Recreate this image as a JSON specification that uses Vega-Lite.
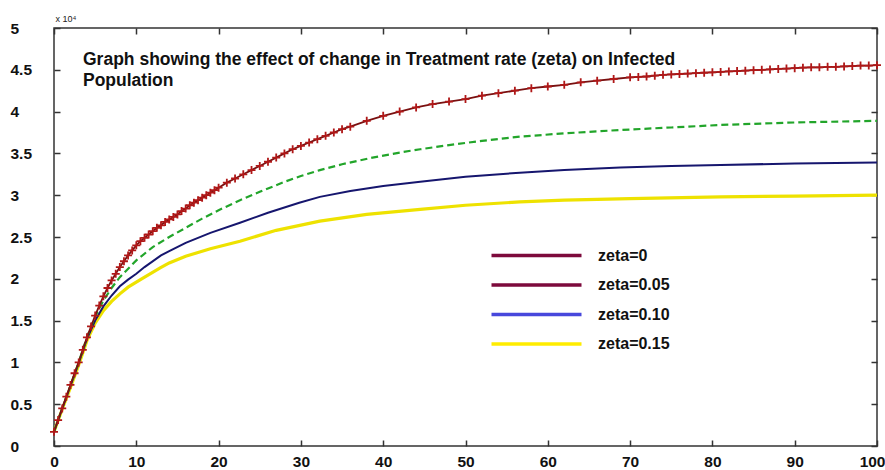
{
  "$schema": "https://vega.github.io/schema/vega-lite/v6.json",
  "width": 823,
  "height": 418,
  "autosize": {"type": "none"},
  "padding": {"left": 54, "top": 28, "right": 8, "bottom": 24},
  "background": "white",
  "title": {
    "text": ["Graph showing the effect of change in Treatment rate (zeta) on Infected", "Population"],
    "anchor": "start",
    "frame": "group",
    "orient": "top",
    "offset": 0,
    "dx": 29,
    "dy": 75,
    "font": "Liberation Sans",
    "fontSize": 17.5,
    "fontWeight": "bold",
    "color": "#111",
    "lineHeight": 21
  },
  "config": {
    "view": {"stroke": "#333", "strokeWidth": 1.5},
    "axis": {
      "domain": false,
      "grid": false,
      "ticks": true,
      "tickSize": -6,
      "tickWidth": 1.5,
      "tickColor": "#333",
      "labelFont": "Liberation Sans",
      "labelFontSize": 15.5,
      "labelFontWeight": "bold",
      "labelColor": "#111"
    }
  },
  "datasets": {
    "legend": [
      {"label": "zeta=0"},
      {"label": "zeta=0.05"},
      {"label": "zeta=0.10"},
      {"label": "zeta=0.15"}
    ],
    "curves": [
      {"series": "zeta0", "time": 0, "infected": 0.17},
      {"series": "zeta0", "time": 0.5, "infected": 0.31},
      {"series": "zeta0", "time": 1, "infected": 0.45},
      {"series": "zeta0", "time": 1.5, "infected": 0.59},
      {"series": "zeta0", "time": 2, "infected": 0.73},
      {"series": "zeta0", "time": 2.5, "infected": 0.87},
      {"series": "zeta0", "time": 3, "infected": 1.0},
      {"series": "zeta0", "time": 3.5, "infected": 1.15},
      {"series": "zeta0", "time": 4, "infected": 1.3},
      {"series": "zeta0", "time": 4.5, "infected": 1.43},
      {"series": "zeta0", "time": 5, "infected": 1.56},
      {"series": "zeta0", "time": 5.5, "infected": 1.68},
      {"series": "zeta0", "time": 6, "infected": 1.79},
      {"series": "zeta0", "time": 6.5, "infected": 1.89},
      {"series": "zeta0", "time": 7, "infected": 1.98},
      {"series": "zeta0", "time": 7.5, "infected": 2.06},
      {"series": "zeta0", "time": 8, "infected": 2.14},
      {"series": "zeta0", "time": 8.5, "infected": 2.21},
      {"series": "zeta0", "time": 9, "infected": 2.28},
      {"series": "zeta0", "time": 9.5, "infected": 2.34},
      {"series": "zeta0", "time": 10, "infected": 2.4},
      {"series": "zeta0", "time": 10.5, "infected": 2.45},
      {"series": "zeta0", "time": 11, "infected": 2.49},
      {"series": "zeta0", "time": 11.5, "infected": 2.53},
      {"series": "zeta0", "time": 12, "infected": 2.57},
      {"series": "zeta0", "time": 12.5, "infected": 2.61},
      {"series": "zeta0", "time": 13, "infected": 2.64},
      {"series": "zeta0", "time": 13.5, "infected": 2.68},
      {"series": "zeta0", "time": 14, "infected": 2.71},
      {"series": "zeta0", "time": 14.5, "infected": 2.74},
      {"series": "zeta0", "time": 15, "infected": 2.77},
      {"series": "zeta0", "time": 15.5, "infected": 2.81},
      {"series": "zeta0", "time": 16, "infected": 2.84},
      {"series": "zeta0", "time": 16.5, "infected": 2.88},
      {"series": "zeta0", "time": 17, "infected": 2.91},
      {"series": "zeta0", "time": 17.5, "infected": 2.94},
      {"series": "zeta0", "time": 18, "infected": 2.97},
      {"series": "zeta0", "time": 18.5, "infected": 3.0},
      {"series": "zeta0", "time": 19, "infected": 3.03},
      {"series": "zeta0", "time": 19.5, "infected": 3.06},
      {"series": "zeta0", "time": 20, "infected": 3.09},
      {"series": "zeta0", "time": 21, "infected": 3.15},
      {"series": "zeta0", "time": 22, "infected": 3.2},
      {"series": "zeta0", "time": 23, "infected": 3.25},
      {"series": "zeta0", "time": 24, "infected": 3.3},
      {"series": "zeta0", "time": 25, "infected": 3.35},
      {"series": "zeta0", "time": 26, "infected": 3.4},
      {"series": "zeta0", "time": 27, "infected": 3.45},
      {"series": "zeta0", "time": 28, "infected": 3.5},
      {"series": "zeta0", "time": 29, "infected": 3.55},
      {"series": "zeta0", "time": 30, "infected": 3.59},
      {"series": "zeta0", "time": 31, "infected": 3.63},
      {"series": "zeta0", "time": 32, "infected": 3.67},
      {"series": "zeta0", "time": 33, "infected": 3.71},
      {"series": "zeta0", "time": 34, "infected": 3.75},
      {"series": "zeta0", "time": 35, "infected": 3.79},
      {"series": "zeta0", "time": 36, "infected": 3.82},
      {"series": "zeta0", "time": 38, "infected": 3.89},
      {"series": "zeta0", "time": 40, "infected": 3.95},
      {"series": "zeta0", "time": 42, "infected": 4.0},
      {"series": "zeta0", "time": 44, "infected": 4.05},
      {"series": "zeta0", "time": 46, "infected": 4.09},
      {"series": "zeta0", "time": 48, "infected": 4.12},
      {"series": "zeta0", "time": 50, "infected": 4.15},
      {"series": "zeta0", "time": 52, "infected": 4.19},
      {"series": "zeta0", "time": 54, "infected": 4.22},
      {"series": "zeta0", "time": 56, "infected": 4.25},
      {"series": "zeta0", "time": 58, "infected": 4.28},
      {"series": "zeta0", "time": 60, "infected": 4.3},
      {"series": "zeta0", "time": 62, "infected": 4.32},
      {"series": "zeta0", "time": 64, "infected": 4.35},
      {"series": "zeta0", "time": 66, "infected": 4.37},
      {"series": "zeta0", "time": 68, "infected": 4.39},
      {"series": "zeta0", "time": 70, "infected": 4.41},
      {"series": "zeta0", "time": 71, "infected": 4.415},
      {"series": "zeta0", "time": 72, "infected": 4.42},
      {"series": "zeta0", "time": 73, "infected": 4.43},
      {"series": "zeta0", "time": 74, "infected": 4.44},
      {"series": "zeta0", "time": 75, "infected": 4.445},
      {"series": "zeta0", "time": 76, "infected": 4.45},
      {"series": "zeta0", "time": 77, "infected": 4.455},
      {"series": "zeta0", "time": 78, "infected": 4.46},
      {"series": "zeta0", "time": 79, "infected": 4.465},
      {"series": "zeta0", "time": 80, "infected": 4.47},
      {"series": "zeta0", "time": 81, "infected": 4.475},
      {"series": "zeta0", "time": 82, "infected": 4.48},
      {"series": "zeta0", "time": 83, "infected": 4.485},
      {"series": "zeta0", "time": 84, "infected": 4.49},
      {"series": "zeta0", "time": 85, "infected": 4.495},
      {"series": "zeta0", "time": 86, "infected": 4.5},
      {"series": "zeta0", "time": 87, "infected": 4.505},
      {"series": "zeta0", "time": 88, "infected": 4.51},
      {"series": "zeta0", "time": 89, "infected": 4.515},
      {"series": "zeta0", "time": 90, "infected": 4.52},
      {"series": "zeta0", "time": 91, "infected": 4.525},
      {"series": "zeta0", "time": 92, "infected": 4.53},
      {"series": "zeta0", "time": 93, "infected": 4.53},
      {"series": "zeta0", "time": 94, "infected": 4.535},
      {"series": "zeta0", "time": 95, "infected": 4.535},
      {"series": "zeta0", "time": 96, "infected": 4.54},
      {"series": "zeta0", "time": 97, "infected": 4.545},
      {"series": "zeta0", "time": 98, "infected": 4.55},
      {"series": "zeta0", "time": 99, "infected": 4.55},
      {"series": "zeta0", "time": 100, "infected": 4.555},

      {"series": "zeta05", "time": 0, "infected": 0.17},
      {"series": "zeta05", "time": 1, "infected": 0.45},
      {"series": "zeta05", "time": 2, "infected": 0.72},
      {"series": "zeta05", "time": 3, "infected": 1.0},
      {"series": "zeta05", "time": 4, "infected": 1.3},
      {"series": "zeta05", "time": 5, "infected": 1.55},
      {"series": "zeta05", "time": 6, "infected": 1.74},
      {"series": "zeta05", "time": 7, "infected": 1.89},
      {"series": "zeta05", "time": 8, "infected": 2.02},
      {"series": "zeta05", "time": 10, "infected": 2.22},
      {"series": "zeta05", "time": 12, "infected": 2.38},
      {"series": "zeta05", "time": 14, "infected": 2.5},
      {"series": "zeta05", "time": 16, "infected": 2.61},
      {"series": "zeta05", "time": 18, "infected": 2.72},
      {"series": "zeta05", "time": 20, "infected": 2.82},
      {"series": "zeta05", "time": 22.6, "infected": 2.94},
      {"series": "zeta05", "time": 25, "infected": 3.04},
      {"series": "zeta05", "time": 28, "infected": 3.16},
      {"series": "zeta05", "time": 30, "infected": 3.23},
      {"series": "zeta05", "time": 32.3, "infected": 3.3},
      {"series": "zeta05", "time": 35, "infected": 3.37},
      {"series": "zeta05", "time": 38.7, "infected": 3.45},
      {"series": "zeta05", "time": 42, "infected": 3.51},
      {"series": "zeta05", "time": 44.5, "infected": 3.55},
      {"series": "zeta05", "time": 48, "infected": 3.6},
      {"series": "zeta05", "time": 52, "infected": 3.65},
      {"series": "zeta05", "time": 56.6, "infected": 3.7},
      {"series": "zeta05", "time": 62, "infected": 3.74},
      {"series": "zeta05", "time": 68.8, "infected": 3.78},
      {"series": "zeta05", "time": 75, "infected": 3.81},
      {"series": "zeta05", "time": 81, "infected": 3.84},
      {"series": "zeta05", "time": 90, "infected": 3.87},
      {"series": "zeta05", "time": 100, "infected": 3.89},

      {"series": "zeta10", "time": 0, "infected": 0.17},
      {"series": "zeta10", "time": 1, "infected": 0.45},
      {"series": "zeta10", "time": 2, "infected": 0.72},
      {"series": "zeta10", "time": 3, "infected": 0.99},
      {"series": "zeta10", "time": 4, "infected": 1.28},
      {"series": "zeta10", "time": 5, "infected": 1.5},
      {"series": "zeta10", "time": 6, "infected": 1.67},
      {"series": "zeta10", "time": 7, "infected": 1.8},
      {"series": "zeta10", "time": 8, "infected": 1.91},
      {"series": "zeta10", "time": 9, "infected": 1.99},
      {"series": "zeta10", "time": 10, "infected": 2.06},
      {"series": "zeta10", "time": 11, "infected": 2.14},
      {"series": "zeta10", "time": 13, "infected": 2.28},
      {"series": "zeta10", "time": 14, "infected": 2.33},
      {"series": "zeta10", "time": 16, "infected": 2.43},
      {"series": "zeta10", "time": 19, "infected": 2.55},
      {"series": "zeta10", "time": 22.6, "infected": 2.67},
      {"series": "zeta10", "time": 26, "infected": 2.79},
      {"series": "zeta10", "time": 29.8, "infected": 2.91},
      {"series": "zeta10", "time": 32.3, "infected": 2.98},
      {"series": "zeta10", "time": 36, "infected": 3.05},
      {"series": "zeta10", "time": 40, "infected": 3.11},
      {"series": "zeta10", "time": 44.5, "infected": 3.16},
      {"series": "zeta10", "time": 50, "infected": 3.22},
      {"series": "zeta10", "time": 56.6, "infected": 3.27},
      {"series": "zeta10", "time": 62, "infected": 3.3},
      {"series": "zeta10", "time": 68.8, "infected": 3.33},
      {"series": "zeta10", "time": 75, "infected": 3.35},
      {"series": "zeta10", "time": 81, "infected": 3.36},
      {"series": "zeta10", "time": 90, "infected": 3.38},
      {"series": "zeta10", "time": 100, "infected": 3.39},

      {"series": "zeta15", "time": 0, "infected": 0.17},
      {"series": "zeta15", "time": 1, "infected": 0.44},
      {"series": "zeta15", "time": 2, "infected": 0.7},
      {"series": "zeta15", "time": 3, "infected": 0.97},
      {"series": "zeta15", "time": 4, "infected": 1.26},
      {"series": "zeta15", "time": 5, "infected": 1.47},
      {"series": "zeta15", "time": 6, "infected": 1.62},
      {"series": "zeta15", "time": 7, "infected": 1.73},
      {"series": "zeta15", "time": 8, "infected": 1.82},
      {"series": "zeta15", "time": 9, "infected": 1.9},
      {"series": "zeta15", "time": 10.5, "infected": 1.99},
      {"series": "zeta15", "time": 12.9, "infected": 2.13},
      {"series": "zeta15", "time": 14, "infected": 2.19},
      {"series": "zeta15", "time": 16, "infected": 2.27},
      {"series": "zeta15", "time": 19, "infected": 2.36},
      {"series": "zeta15", "time": 22.6, "infected": 2.45},
      {"series": "zeta15", "time": 27, "infected": 2.58},
      {"series": "zeta15", "time": 32.3, "infected": 2.69},
      {"series": "zeta15", "time": 38, "infected": 2.77},
      {"series": "zeta15", "time": 44.5, "infected": 2.83},
      {"series": "zeta15", "time": 50, "infected": 2.88},
      {"series": "zeta15", "time": 56.6, "infected": 2.92},
      {"series": "zeta15", "time": 62, "infected": 2.94},
      {"series": "zeta15", "time": 70, "infected": 2.96},
      {"series": "zeta15", "time": 81, "infected": 2.98},
      {"series": "zeta15", "time": 90, "infected": 2.99},
      {"series": "zeta15", "time": 100, "infected": 3.0}
    ]
  },
  "resolve": {"axis": {"x": "independent", "y": "independent"}},
  "layer": [
    {
      "data": {"name": "curves"},
      "transform": [{"filter": "datum.series === 'zeta15'"}],
      "mark": {"type": "line", "color": "#eee200", "strokeWidth": 3.2},
      "encoding": {
        "x": {
          "field": "time", "type": "quantitative",
          "scale": {"domain": [0, 100], "nice": false, "zero": false},
          "axis": {
            "orient": "bottom", "title": null,
            "values": [0, 10, 20, 30, 40, 50, 60, 70, 80, 90, 100],
            "labelPadding": 21, "labelBaseline": "middle", "labelFlush": false,
            "labelAlign": {"condition": {"test": "datum.value === 100", "value": "right"}, "value": "center"},
            "labelOffset": {"condition": {"test": "datum.value === 100", "value": 8}, "value": 0}
          }
        },
        "y": {
          "field": "infected", "type": "quantitative",
          "scale": {"domain": [0, 5], "nice": false, "zero": false},
          "axis": {
            "orient": "left",
            "values": [0, 0.5, 1, 1.5, 2, 2.5, 3, 3.5, 4, 4.5, 5],
            "labelExpr": "'' + datum.value",
            "labelAlign": "left", "labelBaseline": "middle", "labelPadding": 50,
            "labelFlush": false,
            "title": "x 10⁴",
            "titleAngle": 0, "titleAlign": "left", "titleBaseline": "middle",
            "titleX": 1, "titleY": -10,
            "titleFont": "Liberation Sans", "titleFontSize": 9, "titleFontWeight": "normal",
            "titleColor": "#222"
          }
        }
      }
    },
    {
      "data": {"name": "curves"},
      "transform": [{"filter": "datum.series === 'zeta10'"}],
      "mark": {"type": "line", "color": "#16166e", "strokeWidth": 2},
      "encoding": {
        "x": {"field": "time", "type": "quantitative", "axis": null},
        "y": {"field": "infected", "type": "quantitative", "axis": null}
      }
    },
    {
      "data": {"name": "curves"},
      "transform": [{"filter": "datum.series === 'zeta05'"}],
      "mark": {"type": "line", "color": "#22a52a", "strokeWidth": 2.2, "strokeDash": [7, 4]},
      "encoding": {
        "x": {"field": "time", "type": "quantitative", "axis": null},
        "y": {"field": "infected", "type": "quantitative", "axis": null}
      }
    },
    {
      "data": {"name": "curves"},
      "transform": [{"filter": "datum.series === 'zeta0'"}],
      "mark": {"type": "line", "color": "#7a1010", "strokeWidth": 1.8},
      "encoding": {
        "x": {"field": "time", "type": "quantitative", "axis": null},
        "y": {"field": "infected", "type": "quantitative", "axis": null}
      }
    },
    {
      "data": {"name": "curves"},
      "transform": [{"filter": "datum.series === 'zeta0'"}],
      "mark": {"type": "point", "shape": "M-1,0H1M0,-1V1", "filled": false, "color": "#b01818", "strokeWidth": 1.8, "size": 64, "opacity": 1},
      "encoding": {
        "x": {"field": "time", "type": "quantitative", "axis": null},
        "y": {"field": "infected", "type": "quantitative", "axis": null}
      }
    },
    {
      "data": {"name": "legend"},
      "mark": {"type": "point", "opacity": 0, "filled": false},
      "encoding": {
        "x": {
          "datum": 0, "type": "quantitative",
          "axis": {"orient": "top", "labels": false, "title": null, "values": [0, 10, 20, 30, 40, 50, 60, 70, 80, 90, 100]}
        },
        "y": {
          "datum": 0, "type": "quantitative",
          "axis": {"orient": "right", "labels": false, "title": null, "values": [0, 0.5, 1, 1.5, 2, 2.5, 3, 3.5, 4, 4.5, 5]}
        },
        "stroke": {
          "field": "label", "type": "nominal",
          "scale": {
            "domain": ["zeta=0", "zeta=0.05", "zeta=0.10", "zeta=0.15"],
            "range": ["#7d0a3c", "#7d0a3c", "#4848dc", "#ffec00"]
          },
          "legend": {
            "orient": "none",
            "legendX": 473,
            "legendY": 218,
            "title": null,
            "padding": 0,
            "symbolType": "M-6,0H6",
            "symbolSize": 225,
            "symbolStrokeWidth": 3.5,
            "symbolOpacity": 1,
            "symbolFillColor": "transparent",
            "labelFont": "Liberation Sans",
            "labelFontSize": 16,
            "labelFontWeight": "bold",
            "labelColor": "#111",
            "labelOffset": 52,
            "rowPadding": 11.5
          }
        }
      }
    }
  ]
}
